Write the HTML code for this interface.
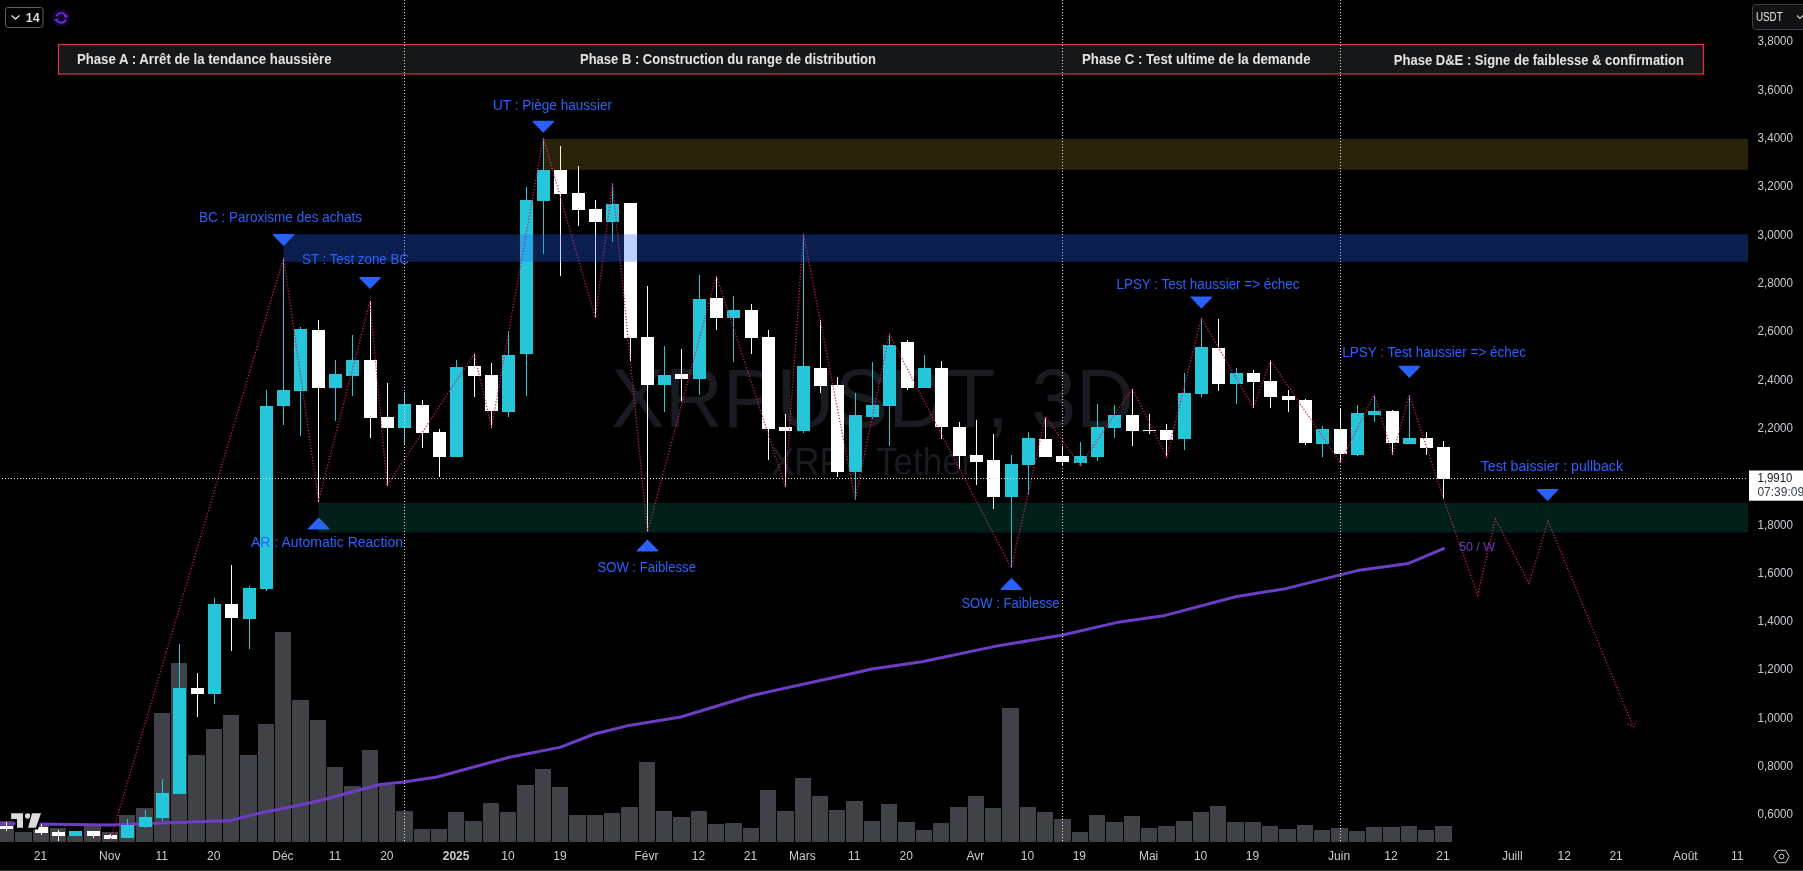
<!DOCTYPE html><html><head><meta charset="utf-8"><title>XRPUSDT 3D</title><style>html,body{margin:0;padding:0;background:#000;width:1803px;height:871px;overflow:hidden}svg{display:block;will-change:transform}text{font-family:"Liberation Sans",sans-serif}</style></head><body><svg width="1803" height="871" viewBox="0 0 1803 871"><rect x="0" y="0" width="1803" height="871" fill="#000"/><text x="611" y="427" font-size="84" fill="#1a1b20" textLength="523" lengthAdjust="spacingAndGlyphs">XRPUSDT, 3D</text><g transform="translate(0 475) scale(1 1.087) translate(0 -475)"><text x="771" y="475" font-size="35" fill="#1a1b20">XRP /</text><text x="876" y="475" font-size="35" fill="#1a1b20">Tether</text></g><g fill="#404248" shape-rendering="crispEdges"><rect x="0" y="821" width="14" height="21"/><rect x="15" y="832" width="17" height="10"/><rect x="33" y="825" width="16" height="17"/><rect x="50" y="828" width="16" height="14"/><rect x="67" y="836" width="16" height="6"/><rect x="84" y="826" width="17" height="16"/><rect x="102" y="832" width="16" height="10"/><rect x="119" y="815" width="16" height="27"/><rect x="136" y="808" width="17" height="34"/><rect x="154" y="713" width="16" height="129"/><rect x="171" y="663" width="16" height="179"/><rect x="188" y="755" width="17" height="87"/><rect x="206" y="729" width="16" height="113"/><rect x="223" y="715" width="16" height="127"/><rect x="240" y="755" width="17" height="87"/><rect x="258" y="724" width="16" height="118"/><rect x="275" y="632" width="16" height="210"/><rect x="292" y="700" width="17" height="142"/><rect x="310" y="720" width="16" height="122"/><rect x="327" y="767" width="16" height="75"/><rect x="344" y="786" width="17" height="56"/><rect x="362" y="750" width="16" height="92"/><rect x="379" y="785" width="16" height="57"/><rect x="396" y="811" width="17" height="31"/><rect x="414" y="829" width="16" height="13"/><rect x="431" y="829" width="16" height="13"/><rect x="448" y="812" width="16" height="30"/><rect x="465" y="821" width="17" height="21"/><rect x="483" y="803" width="16" height="39"/><rect x="500" y="812" width="16" height="30"/><rect x="517" y="785" width="17" height="57"/><rect x="535" y="769" width="16" height="73"/><rect x="552" y="787" width="16" height="55"/><rect x="569" y="815" width="17" height="27"/><rect x="587" y="815" width="16" height="27"/><rect x="604" y="813" width="16" height="29"/><rect x="621" y="807" width="17" height="35"/><rect x="639" y="762" width="16" height="80"/><rect x="656" y="811" width="16" height="31"/><rect x="673" y="817" width="17" height="25"/><rect x="691" y="811" width="16" height="31"/><rect x="708" y="824" width="16" height="18"/><rect x="725" y="823" width="17" height="19"/><rect x="743" y="828" width="16" height="14"/><rect x="760" y="790" width="16" height="52"/><rect x="777" y="811" width="17" height="31"/><rect x="795" y="778" width="16" height="64"/><rect x="812" y="796" width="16" height="46"/><rect x="829" y="810" width="16" height="32"/><rect x="846" y="801" width="17" height="41"/><rect x="864" y="821" width="16" height="21"/><rect x="881" y="804" width="16" height="38"/><rect x="898" y="822" width="17" height="20"/><rect x="916" y="830" width="16" height="12"/><rect x="933" y="823" width="16" height="19"/><rect x="950" y="807" width="17" height="35"/><rect x="968" y="796" width="16" height="46"/><rect x="985" y="808" width="16" height="34"/><rect x="1002" y="708" width="17" height="134"/><rect x="1020" y="807" width="16" height="35"/><rect x="1037" y="812" width="16" height="30"/><rect x="1054" y="819" width="17" height="23"/><rect x="1072" y="832" width="16" height="10"/><rect x="1089" y="815" width="16" height="27"/><rect x="1106" y="822" width="17" height="20"/><rect x="1124" y="816" width="16" height="26"/><rect x="1141" y="828" width="16" height="14"/><rect x="1158" y="826" width="17" height="16"/><rect x="1176" y="821" width="16" height="21"/><rect x="1193" y="812" width="16" height="30"/><rect x="1210" y="806" width="16" height="36"/><rect x="1227" y="822" width="17" height="20"/><rect x="1245" y="822" width="16" height="20"/><rect x="1262" y="826" width="16" height="16"/><rect x="1279" y="829" width="17" height="13"/><rect x="1297" y="825" width="16" height="17"/><rect x="1314" y="830" width="16" height="12"/><rect x="1331" y="828" width="17" height="14"/><rect x="1349" y="831" width="16" height="11"/><rect x="1366" y="827" width="16" height="15"/><rect x="1383" y="827" width="17" height="15"/><rect x="1401" y="826" width="16" height="16"/><rect x="1418" y="830" width="16" height="12"/><rect x="1435" y="826" width="17" height="16"/></g><polyline fill="none" stroke="#6e3dc6" stroke-width="3" stroke-linejoin="round" stroke-linecap="round" points="0,823.5 110,824.9 230.8,820.4 257,813.7 300,805 320,800.5 380,784.5 404,782 437,777 510.5,757 560,747.4 594.5,734 629,725.4 680.7,717 751,695.7 860,671.8 871.8,669 922,661.8 993.8,646.6 1062.7,635 1116.3,622.6 1165.2,615.4 1235.6,596.8 1286.8,588.4 1357.2,570.6 1408.5,563.4 1443.5,548.6"/><g shape-rendering="crispEdges"><rect x="6" y="822" width="1" height="9" fill="#ffffff"/><rect x="0" y="826" width="13" height="3" fill="#ffffff"/><rect x="41" y="824" width="1" height="11" fill="#ffffff"/><rect x="35" y="827" width="13" height="6" fill="#ffffff"/><rect x="58" y="830" width="1" height="11" fill="#ffffff"/><rect x="52" y="832" width="13" height="4" fill="#ffffff"/><rect x="75" y="831" width="1" height="5" fill="#26c6da"/><rect x="69" y="831" width="13" height="5" fill="#26c6da"/><rect x="93" y="831" width="1" height="7" fill="#ffffff"/><rect x="87" y="831" width="13" height="5" fill="#ffffff"/><rect x="110" y="834" width="1" height="5" fill="#ffffff"/><rect x="104" y="835" width="13" height="4" fill="#ffffff"/><rect x="127" y="819" width="1" height="19" fill="#26c6da"/><rect x="121" y="825" width="13" height="13" fill="#26c6da"/><rect x="145" y="810" width="1" height="18" fill="#26c6da"/><rect x="139" y="817" width="13" height="10" fill="#26c6da"/><rect x="162" y="779" width="1" height="42" fill="#26c6da"/><rect x="156" y="793" width="13" height="25" fill="#26c6da"/><rect x="179" y="644" width="1" height="150" fill="#26c6da"/><rect x="173" y="688" width="13" height="106" fill="#26c6da"/><rect x="197" y="673" width="1" height="44" fill="#ffffff"/><rect x="191" y="688" width="13" height="6" fill="#ffffff"/><rect x="214" y="598" width="1" height="106" fill="#26c6da"/><rect x="208" y="604" width="13" height="90" fill="#26c6da"/><rect x="231" y="565" width="1" height="86" fill="#ffffff"/><rect x="225" y="604" width="13" height="14" fill="#ffffff"/><rect x="249" y="586" width="1" height="63" fill="#26c6da"/><rect x="243" y="588" width="13" height="31" fill="#26c6da"/><rect x="266" y="390" width="1" height="201" fill="#26c6da"/><rect x="260" y="406" width="13" height="183" fill="#26c6da"/><rect x="283" y="258" width="1" height="167" fill="#26c6da"/><rect x="277" y="390" width="13" height="16" fill="#26c6da"/><rect x="300" y="327" width="1" height="109" fill="#26c6da"/><rect x="294" y="329" width="13" height="62" fill="#26c6da"/><rect x="318" y="320" width="1" height="182" fill="#ffffff"/><rect x="312" y="330" width="13" height="58" fill="#ffffff"/><rect x="335" y="360" width="1" height="61" fill="#26c6da"/><rect x="329" y="374" width="13" height="14" fill="#26c6da"/><rect x="352" y="335" width="1" height="61" fill="#26c6da"/><rect x="346" y="360" width="13" height="16" fill="#26c6da"/><rect x="370" y="301" width="1" height="137" fill="#ffffff"/><rect x="364" y="360" width="13" height="58" fill="#ffffff"/><rect x="387" y="383" width="1" height="103" fill="#ffffff"/><rect x="381" y="417" width="13" height="11" fill="#ffffff"/><rect x="404" y="392" width="1" height="53" fill="#26c6da"/><rect x="398" y="404" width="13" height="24" fill="#26c6da"/><rect x="422" y="400" width="1" height="48" fill="#ffffff"/><rect x="416" y="405" width="13" height="28" fill="#ffffff"/><rect x="439" y="429" width="1" height="48" fill="#ffffff"/><rect x="433" y="432" width="13" height="25" fill="#ffffff"/><rect x="456" y="360" width="1" height="97" fill="#26c6da"/><rect x="450" y="367" width="13" height="90" fill="#26c6da"/><rect x="474" y="354" width="1" height="43" fill="#ffffff"/><rect x="468" y="366" width="13" height="10" fill="#ffffff"/><rect x="491" y="363" width="1" height="65" fill="#ffffff"/><rect x="485" y="375" width="13" height="36" fill="#ffffff"/><rect x="508" y="331" width="1" height="86" fill="#26c6da"/><rect x="502" y="355" width="13" height="57" fill="#26c6da"/><rect x="526" y="187" width="1" height="209" fill="#26c6da"/><rect x="520" y="200" width="13" height="154" fill="#26c6da"/><rect x="543" y="138" width="1" height="116" fill="#26c6da"/><rect x="537" y="170" width="13" height="31" fill="#26c6da"/><rect x="560" y="146" width="1" height="130" fill="#ffffff"/><rect x="554" y="170" width="13" height="24" fill="#ffffff"/><rect x="578" y="166" width="1" height="60" fill="#ffffff"/><rect x="572" y="193" width="13" height="17" fill="#ffffff"/><rect x="595" y="200" width="1" height="118" fill="#ffffff"/><rect x="589" y="209" width="13" height="13" fill="#ffffff"/><rect x="612" y="183" width="1" height="59" fill="#26c6da"/><rect x="606" y="204" width="13" height="18" fill="#26c6da"/><rect x="630" y="203" width="1" height="159" fill="#ffffff"/><rect x="624" y="203" width="13" height="135" fill="#ffffff"/><rect x="647" y="286" width="1" height="246" fill="#ffffff"/><rect x="641" y="337" width="13" height="48" fill="#ffffff"/><rect x="664" y="346" width="1" height="66" fill="#26c6da"/><rect x="658" y="375" width="13" height="10" fill="#26c6da"/><rect x="681" y="349" width="1" height="52" fill="#ffffff"/><rect x="675" y="374" width="13" height="5" fill="#ffffff"/><rect x="699" y="275" width="1" height="120" fill="#26c6da"/><rect x="693" y="299" width="13" height="80" fill="#26c6da"/><rect x="716" y="276" width="1" height="54" fill="#ffffff"/><rect x="710" y="298" width="13" height="20" fill="#ffffff"/><rect x="733" y="296" width="1" height="66" fill="#26c6da"/><rect x="727" y="310" width="13" height="8" fill="#26c6da"/><rect x="751" y="304" width="1" height="50" fill="#ffffff"/><rect x="745" y="310" width="13" height="28" fill="#ffffff"/><rect x="768" y="330" width="1" height="130" fill="#ffffff"/><rect x="762" y="337" width="13" height="92" fill="#ffffff"/><rect x="785" y="414" width="1" height="73" fill="#ffffff"/><rect x="779" y="427" width="13" height="4" fill="#ffffff"/><rect x="803" y="234" width="1" height="199" fill="#26c6da"/><rect x="797" y="366" width="13" height="65" fill="#26c6da"/><rect x="820" y="320" width="1" height="73" fill="#ffffff"/><rect x="814" y="368" width="13" height="18" fill="#ffffff"/><rect x="837" y="377" width="1" height="100" fill="#ffffff"/><rect x="831" y="385" width="13" height="87" fill="#ffffff"/><rect x="855" y="393" width="1" height="107" fill="#26c6da"/><rect x="849" y="415" width="13" height="57" fill="#26c6da"/><rect x="872" y="362" width="1" height="57" fill="#26c6da"/><rect x="866" y="405" width="13" height="12" fill="#26c6da"/><rect x="889" y="334" width="1" height="112" fill="#26c6da"/><rect x="883" y="345" width="13" height="61" fill="#26c6da"/><rect x="907" y="340" width="1" height="50" fill="#ffffff"/><rect x="901" y="342" width="13" height="46" fill="#ffffff"/><rect x="924" y="355" width="1" height="33" fill="#26c6da"/><rect x="918" y="368" width="13" height="20" fill="#26c6da"/><rect x="941" y="361" width="1" height="78" fill="#ffffff"/><rect x="935" y="368" width="13" height="59" fill="#ffffff"/><rect x="959" y="422" width="1" height="47" fill="#ffffff"/><rect x="953" y="427" width="13" height="29" fill="#ffffff"/><rect x="976" y="420" width="1" height="65" fill="#ffffff"/><rect x="970" y="455" width="13" height="7" fill="#ffffff"/><rect x="993" y="434" width="1" height="75" fill="#ffffff"/><rect x="987" y="460" width="13" height="37" fill="#ffffff"/><rect x="1011" y="455" width="1" height="113" fill="#26c6da"/><rect x="1005" y="464" width="13" height="33" fill="#26c6da"/><rect x="1028" y="432" width="1" height="63" fill="#26c6da"/><rect x="1022" y="438" width="13" height="27" fill="#26c6da"/><rect x="1045" y="417" width="1" height="40" fill="#ffffff"/><rect x="1039" y="439" width="13" height="18" fill="#ffffff"/><rect x="1062" y="446" width="1" height="20" fill="#ffffff"/><rect x="1056" y="456" width="13" height="6" fill="#ffffff"/><rect x="1080" y="442" width="1" height="24" fill="#26c6da"/><rect x="1074" y="456" width="13" height="7" fill="#26c6da"/><rect x="1097" y="404" width="1" height="57" fill="#26c6da"/><rect x="1091" y="427" width="13" height="30" fill="#26c6da"/><rect x="1114" y="405" width="1" height="33" fill="#26c6da"/><rect x="1108" y="415" width="13" height="13" fill="#26c6da"/><rect x="1132" y="389" width="1" height="57" fill="#ffffff"/><rect x="1126" y="415" width="13" height="16" fill="#ffffff"/><rect x="1149" y="414" width="1" height="20" fill="#ffffff"/><rect x="1143" y="430" width="13" height="1" fill="#ffffff"/><rect x="1166" y="424" width="1" height="33" fill="#ffffff"/><rect x="1160" y="430" width="13" height="10" fill="#ffffff"/><rect x="1184" y="373" width="1" height="77" fill="#26c6da"/><rect x="1178" y="393" width="13" height="46" fill="#26c6da"/><rect x="1201" y="318" width="1" height="79" fill="#26c6da"/><rect x="1195" y="347" width="13" height="47" fill="#26c6da"/><rect x="1218" y="319" width="1" height="72" fill="#ffffff"/><rect x="1212" y="348" width="13" height="36" fill="#ffffff"/><rect x="1236" y="368" width="1" height="36" fill="#26c6da"/><rect x="1230" y="373" width="13" height="11" fill="#26c6da"/><rect x="1253" y="370" width="1" height="38" fill="#ffffff"/><rect x="1247" y="373" width="13" height="9" fill="#ffffff"/><rect x="1270" y="360" width="1" height="48" fill="#ffffff"/><rect x="1264" y="381" width="13" height="16" fill="#ffffff"/><rect x="1288" y="390" width="1" height="22" fill="#ffffff"/><rect x="1282" y="396" width="13" height="4" fill="#ffffff"/><rect x="1305" y="399" width="1" height="46" fill="#ffffff"/><rect x="1299" y="400" width="13" height="43" fill="#ffffff"/><rect x="1322" y="426" width="1" height="31" fill="#26c6da"/><rect x="1316" y="429" width="13" height="15" fill="#26c6da"/><rect x="1340" y="409" width="1" height="54" fill="#ffffff"/><rect x="1334" y="429" width="13" height="25" fill="#ffffff"/><rect x="1357" y="405" width="1" height="51" fill="#26c6da"/><rect x="1351" y="413" width="13" height="42" fill="#26c6da"/><rect x="1374" y="395" width="1" height="27" fill="#26c6da"/><rect x="1368" y="411" width="13" height="4" fill="#26c6da"/><rect x="1392" y="410" width="1" height="45" fill="#ffffff"/><rect x="1386" y="411" width="13" height="32" fill="#ffffff"/><rect x="1409" y="395" width="1" height="49" fill="#26c6da"/><rect x="1403" y="438" width="13" height="6" fill="#26c6da"/><rect x="1426" y="432" width="1" height="23" fill="#ffffff"/><rect x="1420" y="438" width="13" height="10" fill="#ffffff"/><rect x="1443" y="441" width="1" height="58" fill="#ffffff"/><rect x="1437" y="447" width="13" height="32" fill="#ffffff"/></g><polyline fill="none" stroke="#d11a5c" stroke-width="1.3" stroke-dasharray="1.2 1.8" points="110.6,839 283.6,258 318.6,501 370,301 387,485.6 474.2,353.8 491.6,427.7 543.3,138 595.4,318 612.5,183 647.5,532 716.3,275.6 785.4,486.8 803.4,233.8 855.2,499.7 889.3,334.4 1011.4,568 1045.5,416.6 1080.2,465.8 1132.3,388.6 1166.7,456.8 1201.4,317.9 1253.4,408 1270.5,360.4 1340.3,462.6 1374.3,394.8 1392.7,455 1409.4,394.8 1443.5,498.6"/><polyline fill="none" stroke="#d11a5c" stroke-width="1.3" stroke-dasharray="1.2 1.8" points="1443.5,498.6 1477.7,595 1495.4,519 1529,583.4 1548,521 1632.5,725"/><path d="M1627.5 724L1633.5 726.5L1636.5 721" fill="none" stroke="#d11a5c" stroke-width="1.3" stroke-dasharray="1.2 1.8"/><text x="493" y="109.9" font-size="14" fill="#2962ff" textLength="119" lengthAdjust="spacingAndGlyphs">UT : Piège haussier</text><path d="M533.3 121.5L553.3 121.5L543.3 131.8Z" fill="#2962ff" stroke="#2962ff" stroke-width="1.5" stroke-linejoin="round"/><text x="199" y="222.4" font-size="14" fill="#2962ff" textLength="163" lengthAdjust="spacingAndGlyphs">BC : Paroxisme des achats</text><path d="M273.6 234.7L293.6 234.7L283.6 245Z" fill="#2962ff" stroke="#2962ff" stroke-width="1.5" stroke-linejoin="round"/><text x="302" y="264.4" font-size="14" fill="#2962ff" textLength="107" lengthAdjust="spacingAndGlyphs">ST : Test zone BC</text><path d="M360 277.7L380 277.7L370 288Z" fill="#2962ff" stroke="#2962ff" stroke-width="1.5" stroke-linejoin="round"/><text x="251" y="547.4" font-size="14" fill="#2962ff" textLength="152" lengthAdjust="spacingAndGlyphs">AR : Automatic Reaction</text><path d="M308.6 528.8L328.6 528.8L318.6 518.5Z" fill="#2962ff" stroke="#2962ff" stroke-width="1.5" stroke-linejoin="round"/><text x="597.4" y="571.8" font-size="14" fill="#2962ff" textLength="98.6" lengthAdjust="spacingAndGlyphs">SOW : Faiblesse</text><path d="M637.5 550.8L657.5 550.8L647.5 540.5Z" fill="#2962ff" stroke="#2962ff" stroke-width="1.5" stroke-linejoin="round"/><text x="961.4" y="608.3" font-size="14" fill="#2962ff" textLength="98.2" lengthAdjust="spacingAndGlyphs">SOW : Faiblesse</text><path d="M1001.4 589.2L1021.4 589.2L1011.4 578.9Z" fill="#2962ff" stroke="#2962ff" stroke-width="1.5" stroke-linejoin="round"/><text x="1116.5" y="289.2" font-size="14" fill="#2962ff" textLength="183" lengthAdjust="spacingAndGlyphs">LPSY : Test haussier =&gt; échec</text><path d="M1191.4 297.3L1211.4 297.3L1201.4 307.6Z" fill="#2962ff" stroke="#2962ff" stroke-width="1.5" stroke-linejoin="round"/><text x="1342.2" y="357.4" font-size="14" fill="#2962ff" textLength="183.8" lengthAdjust="spacingAndGlyphs">LPSY : Test haussier =&gt; échec</text><path d="M1399.4 366.6L1419.4 366.6L1409.4 376.9Z" fill="#2962ff" stroke="#2962ff" stroke-width="1.5" stroke-linejoin="round"/><text x="1480.7" y="470.9" font-size="14" fill="#2962ff" textLength="142.3" lengthAdjust="spacingAndGlyphs">Test baissier : pullback</text><path d="M1537.5 489.7L1557.5 489.7L1547.5 500Z" fill="#2962ff" stroke="#2962ff" stroke-width="1.5" stroke-linejoin="round"/><text x="1459" y="551.4" font-size="12.3" fill="#6a3fc0" textLength="36" lengthAdjust="spacingAndGlyphs">50 / W</text><rect x="58.5" y="44.5" width="1645" height="29.5" fill="#161719" stroke="#e33446" stroke-width="1.2"/><line x1="0" y1="478.5" x2="1748" y2="478.5" stroke="#e6e6e6" stroke-width="1" stroke-dasharray="1 2" stroke-dashoffset="1" shape-rendering="crispEdges"/><line x1="404.5" y1="0" x2="404.5" y2="842" stroke="#e6e6e6" stroke-width="1" stroke-dasharray="1 2" shape-rendering="crispEdges"/><line x1="1062.5" y1="0" x2="1062.5" y2="842" stroke="#e6e6e6" stroke-width="1" stroke-dasharray="1 2" shape-rendering="crispEdges"/><line x1="1340.5" y1="0" x2="1340.5" y2="842" stroke="#e6e6e6" stroke-width="1" stroke-dasharray="1 2" shape-rendering="crispEdges"/><rect x="543.5" y="139" width="1204.5" height="30.8" fill="rgb(240,200,65)" fill-opacity="0.175"/><rect x="283.5" y="234.3" width="1464.5" height="27.5" fill="rgb(41,98,255)" fill-opacity="0.3"/><rect x="318.5" y="502.8" width="1429.5" height="29.8" fill="rgb(8,153,129)" fill-opacity="0.2"/><text x="76.9" y="63.8" font-size="14.3" font-weight="bold" fill="#e3e3e3" textLength="254.6" lengthAdjust="spacingAndGlyphs">Phase A : Arrêt de la tendance haussière</text><text x="580" y="63.8" font-size="14.3" font-weight="bold" fill="#e3e3e3" textLength="296" lengthAdjust="spacingAndGlyphs">Phase B : Construction du range de distribution</text><text x="1082" y="63.8" font-size="14.3" font-weight="bold" fill="#e3e3e3" textLength="228.5" lengthAdjust="spacingAndGlyphs">Phase C : Test ultime de la demande</text><text x="1393.8" y="64.5" font-size="14.3" font-weight="bold" fill="#e3e3e3" textLength="290.2" lengthAdjust="spacingAndGlyphs">Phase D&amp;E : Signe de faiblesse &amp; confirmation</text><text x="1757.5" y="45.4" font-size="12" fill="#c9cbd1" textLength="35.5" lengthAdjust="spacingAndGlyphs">3,8000</text><text x="1757.5" y="93.71" font-size="12" fill="#c9cbd1" textLength="35.5" lengthAdjust="spacingAndGlyphs">3,6000</text><text x="1757.5" y="142.02" font-size="12" fill="#c9cbd1" textLength="35.5" lengthAdjust="spacingAndGlyphs">3,4000</text><text x="1757.5" y="190.33" font-size="12" fill="#c9cbd1" textLength="35.5" lengthAdjust="spacingAndGlyphs">3,2000</text><text x="1757.5" y="238.64" font-size="12" fill="#c9cbd1" textLength="35.5" lengthAdjust="spacingAndGlyphs">3,0000</text><text x="1757.5" y="286.95" font-size="12" fill="#c9cbd1" textLength="35.5" lengthAdjust="spacingAndGlyphs">2,8000</text><text x="1757.5" y="335.26" font-size="12" fill="#c9cbd1" textLength="35.5" lengthAdjust="spacingAndGlyphs">2,6000</text><text x="1757.5" y="383.57" font-size="12" fill="#c9cbd1" textLength="35.5" lengthAdjust="spacingAndGlyphs">2,4000</text><text x="1757.5" y="431.88" font-size="12" fill="#c9cbd1" textLength="35.5" lengthAdjust="spacingAndGlyphs">2,2000</text><text x="1757.5" y="528.5" font-size="12" fill="#c9cbd1" textLength="35.5" lengthAdjust="spacingAndGlyphs">1,8000</text><text x="1757.5" y="576.81" font-size="12" fill="#c9cbd1" textLength="35.5" lengthAdjust="spacingAndGlyphs">1,6000</text><text x="1757.5" y="625.12" font-size="12" fill="#c9cbd1" textLength="35.5" lengthAdjust="spacingAndGlyphs">1,4000</text><text x="1757.5" y="673.43" font-size="12" fill="#c9cbd1" textLength="35.5" lengthAdjust="spacingAndGlyphs">1,2000</text><text x="1757.5" y="721.74" font-size="12" fill="#c9cbd1" textLength="35.5" lengthAdjust="spacingAndGlyphs">1,0000</text><text x="1757.5" y="770.05" font-size="12" fill="#c9cbd1" textLength="35.5" lengthAdjust="spacingAndGlyphs">0,8000</text><text x="1757.5" y="818.36" font-size="12" fill="#c9cbd1" textLength="35.5" lengthAdjust="spacingAndGlyphs">0,6000</text><rect x="1749" y="470.5" width="54" height="30.2" fill="#ffffff"/><text x="1757.4" y="481.5" font-size="12" fill="#131722" textLength="35" lengthAdjust="spacingAndGlyphs">1,9910</text><text x="1757.4" y="496" font-size="12" fill="#3a3d45">07:39:09</text><rect x="1752.5" y="4.5" width="60" height="25" rx="3" fill="#111214" stroke="#3b3d42" stroke-width="1"/><text x="1756" y="21" font-size="12" fill="#e6e6e6" textLength="26.7" lengthAdjust="spacingAndGlyphs">USDT</text><path d="M1797 15.5l3 3 3-3" fill="none" stroke="#cfcfcf" stroke-width="1.2"/><text x="40.53" y="860" font-size="12" fill="#c9cbd1" text-anchor="middle">21</text><text x="109.78" y="860" font-size="12" fill="#c9cbd1" text-anchor="middle">Nov</text><text x="161.73" y="860" font-size="12" fill="#c9cbd1" text-anchor="middle">11</text><text x="213.67" y="860" font-size="12" fill="#c9cbd1" text-anchor="middle">20</text><text x="282.92" y="860" font-size="12" fill="#c9cbd1" text-anchor="middle">Déc</text><text x="334.87" y="860" font-size="12" fill="#c9cbd1" text-anchor="middle">11</text><text x="386.81" y="860" font-size="12" fill="#c9cbd1" text-anchor="middle">20</text><text x="456.06" y="860" font-size="12" fill="#c9cbd1" text-anchor="middle" font-weight="bold">2025</text><text x="508.01" y="860" font-size="12" fill="#c9cbd1" text-anchor="middle">10</text><text x="559.95" y="860" font-size="12" fill="#c9cbd1" text-anchor="middle">19</text><text x="646.52" y="860" font-size="12" fill="#c9cbd1" text-anchor="middle">Févr</text><text x="698.46" y="860" font-size="12" fill="#c9cbd1" text-anchor="middle">12</text><text x="750.4" y="860" font-size="12" fill="#c9cbd1" text-anchor="middle">21</text><text x="802.34" y="860" font-size="12" fill="#c9cbd1" text-anchor="middle">Mars</text><text x="854.29" y="860" font-size="12" fill="#c9cbd1" text-anchor="middle">11</text><text x="906.23" y="860" font-size="12" fill="#c9cbd1" text-anchor="middle">20</text><text x="975.48" y="860" font-size="12" fill="#c9cbd1" text-anchor="middle">Avr</text><text x="1027.43" y="860" font-size="12" fill="#c9cbd1" text-anchor="middle">10</text><text x="1079.37" y="860" font-size="12" fill="#c9cbd1" text-anchor="middle">19</text><text x="1148.62" y="860" font-size="12" fill="#c9cbd1" text-anchor="middle">Mai</text><text x="1200.57" y="860" font-size="12" fill="#c9cbd1" text-anchor="middle">10</text><text x="1252.51" y="860" font-size="12" fill="#c9cbd1" text-anchor="middle">19</text><text x="1339.08" y="860" font-size="12" fill="#c9cbd1" text-anchor="middle">Juin</text><text x="1391.02" y="860" font-size="12" fill="#c9cbd1" text-anchor="middle">12</text><text x="1442.96" y="860" font-size="12" fill="#c9cbd1" text-anchor="middle">21</text><text x="1512.22" y="860" font-size="12" fill="#c9cbd1" text-anchor="middle">Juill</text><text x="1564.16" y="860" font-size="12" fill="#c9cbd1" text-anchor="middle">12</text><text x="1616.1" y="860" font-size="12" fill="#c9cbd1" text-anchor="middle">21</text><text x="1685.36" y="860" font-size="12" fill="#c9cbd1" text-anchor="middle">Août</text><text x="1737.3" y="860" font-size="12" fill="#c9cbd1" text-anchor="middle">11</text><path d="M1777.6 850.3h8l3.6 6.2-3.6 6.2h-8l-3.6-6.2z" fill="none" stroke="#d0d0d0" stroke-width="1"/><circle cx="1781.6" cy="856.5" r="2.3" fill="none" stroke="#d0d0d0" stroke-width="1"/><rect x="0" y="870" width="1803" height="1" fill="#333538"/><rect x="5.5" y="7.5" width="37.5" height="20" rx="2.5" fill="#000" stroke="#5c5e63" stroke-width="1"/><path d="M11.5 15.5l4 3.6 4-3.6" fill="none" stroke="#e0e0e0" stroke-width="1.3"/><text x="25.8" y="22" font-size="12.5" font-weight="bold" fill="#dcdcdc">14</text><circle cx="61.1" cy="17.8" r="8.6" fill="#150828"/><path d="M56.4 16.2A5 5 0 0 1 65.6 16.0M65.8 19.4A5 5 0 0 1 56.4 19.6" fill="none" stroke="#6a2cf5" stroke-width="1.6"/><path d="M63.6 15.0L68.3 15.5L65.7 18.6Z M58.5 18.2L53.9 19.9L56.6 21.4Z" fill="#6a2cf5"/><path d="M9.5 811.5H43.5L38 829.5H15.5V821H9.5Z" fill="#000"/><g stroke="#000" stroke-width="2.2" stroke-linejoin="miter" paint-order="stroke" fill="#dcdcdc"><path d="M11.2 813.2h11.8v14.6h-6v-8.8h-5.8z"/><circle cx="27.8" cy="816" r="2.8"/><path d="M32 813.2h9l-5.1 14.6h-7.8z"/></g></svg></body></html>
